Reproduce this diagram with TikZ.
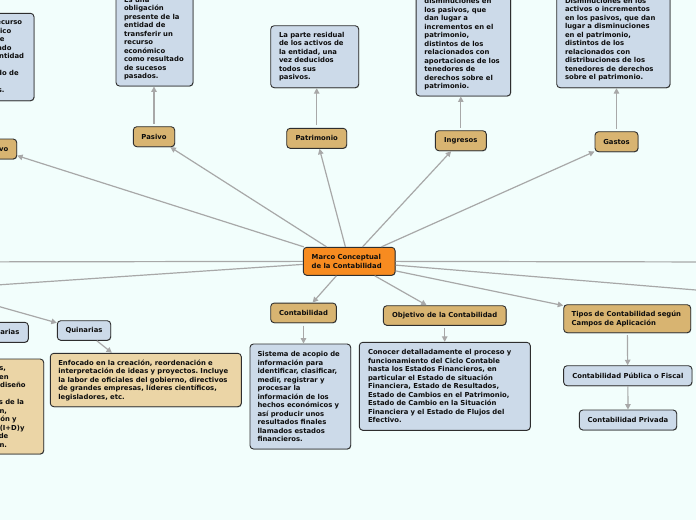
\documentclass[tikz,border=0pt]{standalone}
\usepackage{fontspec}
\setmainfont{DejaVu Sans}
\usetikzlibrary{arrows.meta,shadows}
\definecolor{bg}{HTML}{F2FEFC}
\definecolor{tanc}{HTML}{D8B471}
\definecolor{ltanc}{HTML}{EBD5A6}
\definecolor{bluec}{HTML}{CCDAE9}
\definecolor{orangec}{HTML}{F78B20}
\definecolor{edgec}{HTML}{2E2E2E}
\definecolor{linec}{HTML}{A8A8A8}
\newcommand{\mmfont}{\fontsize{6.85}{8.5}\selectfont\bfseries\frenchspacing}
\newcommand{\mmfontb}{\fontsize{6.85}{9.3}\selectfont\bfseries\frenchspacing}
\tikzset{
  mmbox/.style={draw=edgec, line width=0.9pt, rounded corners=3.5pt, text=black!95,
    inner ysep=0pt, inner xsep=0pt, font=\mmfont,
    drop shadow={shadow xshift=0.5pt, shadow yshift=-0.6pt, opacity=0.35, fill=black}},
  tanbox/.style={mmbox, fill=tanc},
  ltanbox/.style={mmbox, fill=ltanc},
  bluebox/.style={mmbox, fill=bluec},
  orangebox/.style={mmbox, fill=orangec},
  descbox/.style={align=left},
  link/.style={draw=linec, line width=1.2pt, -{Triangle[length=5.5pt,width=5.5pt]}},
  plainlink/.style={draw=linec, line width=1.2pt},
}
\begin{document}
\begin{tikzpicture}[x=1pt,y=-1pt]
\useasboundingbox (0,0) rectangle (696,520);
\fill[bg] (0,0) rectangle (696,520);
\clip (0,0) rectangle (696,520);

% off-canvas free ends
\coordinate (offL1) at (-400,262.5);
\coordinate (sect) at (-63,289);
\coordinate (offR1) at (1000,262.5);
\coordinate (offR2) at (800,298.6);

% central
\node[orangebox, descbox, text width=75pt, inner xsep=8.4pt, minimum height=28pt, font=\mmfontb] (mc) at (349.2,261.3) {Marco Conceptual\\de la Contabilidad};

% first level
\node[tanbox, minimum width=41.4pt, minimum height=20pt] (pasivo) at (154,136.7) {Pasivo};
\node[tanbox, minimum width=60pt, minimum height=20pt] (patrimonio) at (316.7,138.3) {Patrimonio};
\node[tanbox, minimum width=51pt, minimum height=20pt] (ingresos) at (460.8,140.7) {Ingresos};
\node[tanbox, minimum width=43pt, minimum height=20pt] (gastos) at (616.5,141.7) {Gastos};
\node[tanbox, minimum width=41pt, minimum height=20pt] (activo) at (-3.8,149) {Activo};
\node[bluebox, minimum width=67.6pt, minimum height=20pt] (cuat) at (-5.5,332.3) {Cuaternarias};
\node[bluebox, minimum width=53.4pt, minimum height=19.6pt] (quin) at (84,330.5) {Quinarias};
\node[tanbox, minimum width=65.6pt, minimum height=19.7pt] (cont) at (303.5,312.9) {Contabilidad};
\node[tanbox, minimum width=122.7pt, minimum height=19.6pt] (obj) at (444.7,315.5) {Objetivo de la Contabilidad};
\node[tanbox, descbox, text width=111pt, inner xsep=8pt, minimum height=28pt, font=\mmfontb] (tipos) at (627.2,318.7) {Tipos de Contabilidad según\\Campos de Aplicación};
\node[bluebox, minimum width=128.3pt, minimum height=20pt] (publica) at (627.8,375.7) {Contabilidad Pública o Fiscal};
\node[bluebox, minimum width=97.4pt, minimum height=20pt] (privada) at (628,420) {Contabilidad Privada};

% descriptions
\node[bluebox, descbox, text width=61pt, inner xsep=8pt, minimum height=95pt] (pasivod) at (154.5,38.5)
 {Es una\\obligación\\presente de la\\entidad de\\transferir un\\recurso\\económico\\como resultado\\de sucesos\\pasados.};
\node[bluebox, descbox, text width=71.4pt, inner xsep=8.3pt, minimum height=62pt] (patd) at (314.7,56.7)
 {La parte residual\\de los activos de\\la entidad, una\\vez deducidos\\todos sus\\pasivos.};
\node[bluebox, descbox, text width=78pt, inner xsep=8.3pt, minimum height=120pt] (ingd) at (463.35,36)
 {Incrementos en los\\activos o\\disminuciones en\\los pasivos, que\\dan lugar a\\incrementos en el\\patrimonio,\\distintos de los\\relacionados con\\aportaciones de los\\tenedores de\\derechos sobre el\\patrimonio.};
\node[bluebox, descbox, text width=96.7pt, inner xsep=8.3pt, minimum height=95.7pt] (gasd) at (613.35,39.85)
 {Disminuciones en los\\activos o incrementos\\en los pasivos, que dan\\lugar a disminuciones\\en el patrimonio,\\distintos de los\\relacionados con\\distribuciones de los\\tenedores de derechos\\sobre el patrimonio.};
\node[bluebox, descbox, text width=58pt, inner xsep=6pt, minimum height=87.4pt] (actd) at (-1,57)
 {Es un recurso\\económico\\presente\\controlado\\por~la~entidad\\como\\resultado de\\sucesos\\pasados.};
\node[ltanbox, descbox, text width=77.3pt, inner xsep=8pt, minimum height=95pt] (cuatd) at (-2.95,406.5)
 {Actividades,\\centradas en\\creación y diseño\\de nuevas\\tecnologías de la\\información,\\investigación y\\desarrollo (I+D)y\\la gestión de\\información.};
\node[ltanbox, descbox, text width=175pt, inner xsep=8pt, minimum height=53.4pt] (quind) at (145.8,380)
 {Enfocado en la creación, reordenación e\\interpretación de ideas y proyectos. Incluye\\la labor de oficiales del gobierno, directivos\\de grandes empresas, líderes científicos,\\legisladores, etc.};
\node[bluebox, descbox, text width=85.7pt, inner xsep=7.5pt, minimum height=105pt] (contd) at (300.35,396.5)
 {Sistema de acopio de\\información para\\identificar, clasificar,\\medir, registrar y\\procesar la\\información de los\\hechos económicos y\\así producir unos\\resultados finales\\llamados estados\\financieros.};
\node[bluebox, descbox, text width=153.6pt, inner xsep=8.7pt, minimum height=88pt] (objd) at (444.8,386.3)
 {Conocer detalladamente el proceso y\\funcionamiento del Ciclo Contable\\hasta los Estados Financieros, en\\particular el Estado de situación\\Financiera, Estado de Resultados,\\Estado de Cambios en el Patrimonio,\\Estado de Cambio en la Situación\\Financiera y el Estado de Flujos del\\Efectivo.};

% connectors from the centre
\draw[link] (mc) -- (activo);
\draw[link] (mc) -- (pasivo);
\draw[link] (mc) -- (patrimonio);
\draw[link] (mc) -- (ingresos);
\draw[link] (mc) -- (gastos);
\draw[link] (mc) -- (cont);
\draw[link] (mc) -- (obj);
\draw[link] (mc) -- (tipos);
\draw[plainlink] (mc) -- (offL1);
\draw[plainlink] (mc) -- (sect);
\draw[plainlink] (mc) -- (offR1);
\draw[plainlink] (mc) -- (offR2);
\draw[link] (sect) -- (quin);
\draw[link] (sect) -- (cuat);

% connectors to descriptions
\draw[link, shorten <=2.5pt] (pasivo.north) -- (pasivo.north |- pasivod.south);
\draw[link, shorten <=2.5pt] (patrimonio.north) -- (patrimonio.north |- patd.south);
\draw[link, shorten <=2.5pt] (ingresos.north) -- (ingresos.north |- ingd.south);
\draw[link, shorten <=2.5pt] (gastos.north) -- (gastos.north |- gasd.south);
\draw[link, shorten <=2.5pt] (activo.north) -- (activo.north |- actd.south);
\draw[link, shorten <=2.5pt] (cont.south) -- (cont.south |- contd.north);
\draw[link, shorten <=2.5pt] (obj.south) -- (obj.south |- objd.north);
\draw[link] (quin) -- (quind);
\draw[link] (cuat) -- (cuatd);
\draw[link, shorten <=2pt] (tipos) -- (publica);
\draw[link] (publica) -- (privada);
\end{tikzpicture}
\end{document}
